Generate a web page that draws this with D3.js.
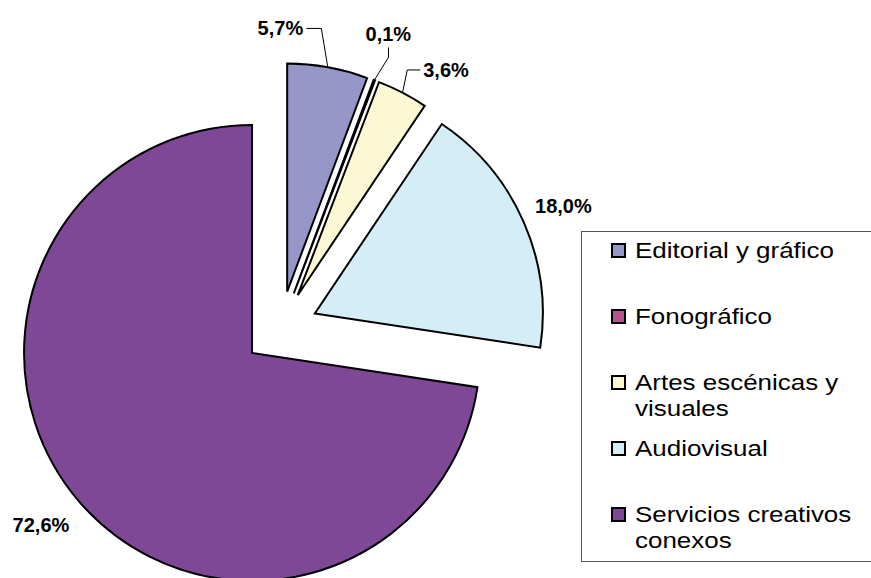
<!DOCTYPE html>
<html>
<head>
<meta charset="utf-8">
<script src="https://cdn.jsdelivr.net/npm/d3@7"></script>
<style>
  body { margin: 0; background: #fff; }
  svg { display: block; font-family: Arial, "Liberation Sans", sans-serif; }
</style>
</head>
<body>
<div id="chart"></div>
<script>
// data
var categories = ["Editorial y gráfico", "Fonográfico", "Artes escénicas y visuales", "Audiovisual", "Servicios creativos conexos"];
var shares = [5.7, 0.1, 3.6, 18.0, 72.6];
var colors = ["#9696c8", "#b4558f", "#fbf8d3", "#d5edf6", "#7e4897"];

var width = 871, height = 578;
var cx = 280.5, cy = 328.5, radius = 228, explode = 37.5;
var labelRadius = 308;
// manual nudges for labels (Excel moved some of them by hand)
var labelShift = [[-55, 3], [-1, -6], [24, 15], [1, 2], [-6, -4]];
var hasLeader = [true, true, true, false, false];

var svg = d3.select("#chart").append("svg")
    .attr("width", width)
    .attr("height", height);

var pie = d3.pie().sort(null).value(function(d) { return d; });
var arcs = pie(shares);

var arc = d3.arc().innerRadius(0).outerRadius(radius);

function mid(d) { return (d.startAngle + d.endAngle) / 2; }
function polar(a, r) { return [Math.sin(a) * r, -Math.cos(a) * r]; }

var g = svg.append("g").attr("transform", "translate(" + cx + "," + cy + ")");

// slices, each pushed out along its bisector
g.selectAll("path.slice").data(arcs).enter().append("path")
    .attr("class", "slice")
    .attr("transform", function(d) {
        var p = polar(mid(d), explode);
        return "translate(" + p[0] + "," + p[1] + ")";
    })
    .attr("d", arc)
    .attr("fill", function(d, i) { return colors[i]; })
    .attr("stroke", "#000")
    .attr("stroke-width", 2)
    .attr("stroke-linejoin", "miter");

// value labels
var fmt = function(v) { return v.toFixed(1).replace(".", ",") + "%"; };

var labels = g.selectAll("text.val").data(arcs).enter().append("text")
    .attr("class", "val")
    .attr("x", function(d, i) { return polar(mid(d), labelRadius)[0] + labelShift[i][0]; })
    .attr("y", function(d, i) { return polar(mid(d), labelRadius)[1] + labelShift[i][1]; })
    .attr("dy", "0.35em")
    .attr("text-anchor", "middle")
    .attr("font-size", "20px")
    .attr("font-weight", "bold")
    .attr("fill", "#000")
    .text(function(d) { return fmt(d.value); });

// leader lines for the moved labels
labels.each(function(d, i) {
    if (!hasLeader[i]) return;
    var bb = this.getBBox();
    var a = mid(d);
    var p0 = polar(a, explode), p1 = polar(a, radius);
    var end = [p0[0] + p1[0], p0[1] + p1[1]];
    var pts;
    if (end[0] > bb.x - 2 && end[0] < bb.x + bb.width + 2) {
        var bx = bb.x + bb.width / 2, by = bb.y + bb.height + 2;
        pts = [[bx, by], [bx, by + 10], end];
    } else if (end[0] >= bb.x + bb.width) {
        var ry = bb.y + bb.height / 2;
        pts = [[bb.x + bb.width + 3, ry], [bb.x + bb.width + 18, ry], end];
    } else {
        var ly = bb.y + bb.height / 2;
        pts = [[bb.x - 3, ly], [bb.x - 16, ly], end];
    }
    g.append("path")
        .attr("d", d3.line()(pts))
        .attr("fill", "none")
        .attr("stroke", "#000")
        .attr("stroke-width", 1);
});

// legend
var legend = svg.append("g");
legend.append("rect")
    .attr("x", 581.5).attr("y", 231.5)
    .attr("width", 300).attr("height", 330)
    .attr("fill", "#fff")
    .attr("stroke", "#555")
    .attr("stroke-width", 1);

var rowStep = 66, firstBase = 258, lineH = 26, maxW = 195, textX = 635, stretch = 1.18;

var items = legend.selectAll("g.item").data(categories).enter().append("g")
    .attr("class", "item")
    .attr("transform", function(d, i) { return "translate(0," + (firstBase + i * rowStep) + ")"; });

items.append("rect")
    .attr("x", 612).attr("y", -14)
    .attr("width", 13).attr("height", 13)
    .attr("fill", function(d, i) { return colors[i]; })
    .attr("stroke", "#000")
    .attr("stroke-width", 2);

// the original legend text is drawn a bit wider than plain Arial
items.append("text")
    .attr("transform", "translate(" + textX + ",0) scale(" + stretch + ",1)")
    .attr("font-size", "22px")
    .attr("fill", "#000")
    .each(function(d) {
        var t = d3.select(this);
        var words = d.split(" "), line = [];
        var ts = t.append("tspan").attr("x", 0).attr("dy", 0);
        words.forEach(function(w) {
            line.push(w);
            ts.text(line.join(" "));
            if (ts.node().getComputedTextLength() > maxW && line.length > 1) {
                line.pop();
                ts.text(line.join(" "));
                line = [w];
                ts = t.append("tspan").attr("x", 0).attr("dy", lineH).text(w);
            }
        });
    });
</script>
</body>
</html>
